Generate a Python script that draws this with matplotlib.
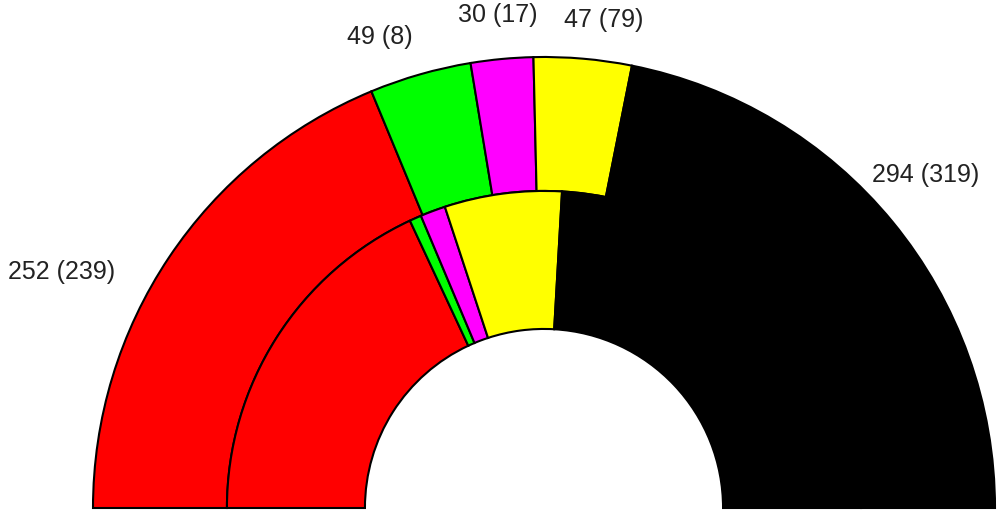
import matplotlib
matplotlib.use("Agg")
import matplotlib.pyplot as plt
from matplotlib.patches import Wedge

parties_colors = ["#ff0000", "#00ff00", "#ff00ff", "#ffff00", "#000000"]
seats_now = [252, 49, 30, 47, 294]
seats_prev = [239, 8, 17, 79, 319]
labels = [f"{a} ({b})" for a, b in zip(seats_now, seats_prev)]

# layout (data units, outer radius = 1)
R_OUT, R_MID, R_IN = 1.0, 0.703, 0.397
label_xy = [(-1.070, 0.523), (-0.364, 1.044), (-0.103, 1.093), (0.133, 1.082), (0.846, 0.738)]

fig = plt.figure(figsize=(10.04, 5.12), dpi=100)
ax = fig.add_axes([0, 0, 1, 1])
ax.set_xlim(-544 / 451, 460 / 451)
ax.set_ylim(-4 / 451, 508 / 451)
ax.set_aspect("equal")
ax.axis("off")


def ring(values, r_outer, width):
    total = sum(values)
    start = 180.0
    for v, c in zip(values, parties_colors):
        span = 180.0 * v / total
        w = Wedge((0, 0), r_outer, start - span, start, width=width,
                  facecolor=c, edgecolor="black", linewidth=1.5)
        ax.add_patch(w)
        start -= span


ring(seats_now, R_OUT, R_OUT - R_MID)
ring(seats_prev, R_MID, R_MID - R_IN)

for (x, y), t in zip(label_xy, labels):
    ax.text(x, y, t, ha="center", va="center", fontsize=18,
            family="Liberation Sans", color="#222222")

fig.savefig("out.png", dpi=100)
